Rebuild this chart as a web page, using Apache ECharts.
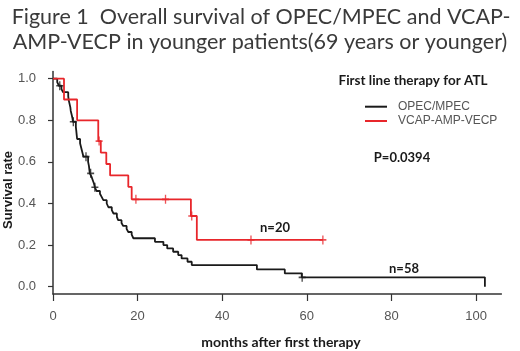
<!DOCTYPE html>
<html>
<head>
<meta charset="utf-8">
<script src="https://cdn.jsdelivr.net/npm/echarts@6/dist/echarts.min.js"></script>
<style>
html,body{margin:0;padding:0;background:#fff;}
#chart{width:520px;height:351px;}
</style>
</head>
<body>
<div id="chart"></div>
<script>
// ---- data ----
const titleLines = ['Figure 1  Overall survival of OPEC/MPEC and VCAP-', 'AMP-VECP in younger patients(69 years or younger)'];
const seriesNames = ['OPEC/MPEC', 'VCAP-AMP-VECP'];
const xTicks = [0, 20, 40, 60, 80, 100];
const yTicks = [0, 0.2, 0.4, 0.6, 0.8, 1.0];

// OPEC/MPEC (n=58): step times (months) and survival after each step
const blackTimes = [0, 1.0, 1.4, 2.0, 2.4, 3.6, 3.7, 3.9, 4.1, 4.2, 4.4, 4.6, 4.7, 5.4, 5.5, 5.6, 5.7, 6.4, 6.8, 7.2,
  8.3, 8.5, 8.6, 8.7, 9.1, 9.4, 9.7, 9.9, 10.3, 11.1, 11.5, 11.9, 12.7, 13.1, 13.9, 14.3, 15.1, 15.4, 16.2, 16.6,
  17.4, 17.8, 18.6, 19.0, 24.1, 26.1, 27.0, 28.4, 29.6, 30.4, 31.8, 32.8, 48.2, 54.8, 58.8, 102.1];
const blackSurv = [1.0, 0.983, 0.966, 0.950, 0.935, 0.916, 0.898, 0.880, 0.862, 0.845, 0.828, 0.810, 0.793, 0.768, 0.750, 0.730, 0.710, 0.690, 0.657, 0.625,
  0.600, 0.580, 0.562, 0.545, 0.529, 0.512, 0.495, 0.478, 0.460, 0.447, 0.432, 0.416, 0.400, 0.382, 0.368, 0.352, 0.336, 0.320, 0.306, 0.292,
  0.278, 0.263, 0.250, 0.233, 0.216, 0.200, 0.184, 0.168, 0.152, 0.136, 0.120, 0.104, 0.083, 0.064, 0.045, 0.0];
const blackCensorTimes = [1.6, 4.8, 7.8, 8.9, 9.9, 58.9];
const blackCensorSurv = [0.966, 0.793, 0.625, 0.545, 0.478, 0.045];

// VCAP-AMP-VECP (n=20)
const redTimes = [0, 2.6, 5.7, 10.7, 11.3, 12.6, 13.5, 17.8, 18.6, 32.6, 34.0, 63.8];
const redSurv = [1.0, 0.9, 0.8, 0.7, 0.645, 0.59, 0.535, 0.48, 0.42, 0.34, 0.225, 0.225];
const redCensorTimes = [10.9, 19.6, 26.6, 32.8, 46.8, 63.8];
const redCensorSurv = [0.7, 0.42, 0.42, 0.34, 0.225, 0.225];

const annotations = { header: 'First line therapy for ATL', pval: 'P=0.0394', nRed: 'n=20', nBlack: 'n=58',
  yName: 'Survival rate', xName: 'months after first therapy' };
// ---------------------------------------

const zip = (a, b) => a.map((v, i) => [v, b[i]]);
const BLACK = '#1a1a1a', RED = '#e8262b', AXIS = '#333333', LABEL = '#555555';
const plus = 'path://M3.25,0h1.5v8h-1.5z M0,3.25h8v1.5h-8z';
const narrow = 'Lato, "Noto Sans", sans-serif';
const arial = '"Liberation Sans", Arial, sans-serif';

const chart = echarts.init(document.getElementById('chart'), null, { renderer: 'canvas' });
chart.setOption({
  animation: false,
  backgroundColor: '#ffffff',
  grid: { left: 53, top: 71.4, width: 448.4, height: 222.6, containLabel: false },
  legend: {
    data: seriesNames, orient: 'vertical', left: 360, top: 94.7, itemWidth: 22, itemHeight: 2, itemGap: 0.3,
    icon: 'rect', selectedMode: false,
    textStyle: { fontFamily: arial, fontSize: 12, lineHeight: 14, color: LABEL, padding: [0, 0, 0, 6] }
  },
  xAxis: {
    type: 'value', min: 0, max: 106,
    axisLine: { onZero: false, lineStyle: { color: AXIS, width: 1.5 } },
    axisTick: { customValues: xTicks, length: 7, lineStyle: { color: AXIS, width: 1.2 } },
    axisLabel: { customValues: xTicks, margin: 16, color: LABEL, fontSize: 13, fontFamily: arial },
    splitLine: { show: false }
  },
  yAxis: {
    type: 'value', min: -0.035, max: 1.035,
    axisLine: { show: true, onZero: false, lineStyle: { color: AXIS, width: 1.5 } },
    axisTick: { show: true, customValues: yTicks, length: 5, lineStyle: { color: AXIS, width: 1.2 } },
    axisLabel: { customValues: yTicks, margin: 17, color: LABEL, fontSize: 13, fontFamily: arial,
      formatter: v => v.toFixed(1) },
    splitLine: { show: false }
  },
  graphic: [
    { type: 'text', x: 261, y: 17, style: { text: titleLines[0], align: 'center', verticalAlign: 'middle',
      font: '21.5px ' + narrow, fill: '#3a3a3a' } },
    { type: 'text', x: 260, y: 42, style: { text: titleLines[1], align: 'center', verticalAlign: 'middle',
      font: '21.5px ' + narrow, fill: '#3a3a3a' } },
    { type: 'text', x: 413, y: 81, style: { text: annotations.header, align: 'center', verticalAlign: 'middle',
      font: 'bold 13.5px ' + narrow, fill: '#1a1a1a' } },
    { type: 'text', x: 402, y: 157.5, style: { text: annotations.pval, align: 'center', verticalAlign: 'middle',
      font: 'bold 13px ' + narrow, fill: '#1a1a1a' } },
    { type: 'text', x: 275, y: 227.5, style: { text: annotations.nRed, align: 'center', verticalAlign: 'middle',
      font: 'bold 13px ' + narrow, fill: '#1a1a1a' } },
    { type: 'text', x: 404, y: 269, style: { text: annotations.nBlack, align: 'center', verticalAlign: 'middle',
      font: 'bold 13px ' + narrow, fill: '#1a1a1a' } },
    { type: 'text', x: 8, y: 190, rotation: Math.PI / 2, style: { text: annotations.yName, align: 'center', verticalAlign: 'middle',
      font: 'bold 13px ' + arial, fill: '#1a1a1a' } },
    { type: 'text', x: 281, y: 342, style: { text: annotations.xName, align: 'center', verticalAlign: 'middle',
      font: 'bold 14px ' + narrow, fill: '#1a1a1a' } }
  ],
  series: [
    { name: seriesNames[0], type: 'line', step: 'end', data: zip(blackTimes, blackSurv), symbol: 'none',
      color: BLACK, lineStyle: { color: BLACK, width: 1.8 }, z: 3 },
    { name: seriesNames[1], type: 'line', step: 'end', data: zip(redTimes, redSurv), symbol: 'none',
      color: RED, lineStyle: { color: RED, width: 1.8 }, z: 4 },
    { type: 'scatter', data: zip(blackCensorTimes, blackCensorSurv), symbol: plus, symbolSize: [7, 9],
      itemStyle: { color: BLACK }, silent: true, z: 5 },
    { type: 'scatter', data: zip(redCensorTimes, redCensorSurv), symbol: plus, symbolSize: [7, 9],
      itemStyle: { color: RED }, silent: true, z: 6 }
  ]
});
</script>
</body>
</html>
